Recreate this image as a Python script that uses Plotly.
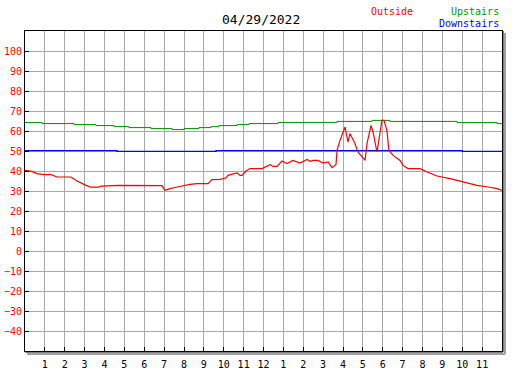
import plotly.graph_objects as go

# ---- data ----
outside_hours = [0.00, 0.35, 0.60, 0.96, 1.31, 1.61, 2.31, 2.62, 3.07, 3.32, 3.72, 3.82, 4.73, 6.89,
                 7.04, 7.30, 7.65, 7.95, 8.30, 8.65, 9.21, 9.41, 9.81, 10.11, 10.21, 10.67, 10.82,
                 10.92, 11.12, 11.32, 11.72, 11.92, 12.33, 12.48, 12.68, 12.93, 13.18, 13.48, 13.84,
                 14.19, 14.34, 14.49, 14.74, 14.99, 15.25, 15.45, 15.65, 15.70, 15.85, 16.10, 16.25,
                 16.35, 16.60, 16.75, 17.11, 17.21, 17.41, 17.51, 17.71, 17.86, 17.96, 18.06, 18.21,
                 18.31, 18.52, 18.87, 19.02, 19.27, 19.87, 20.23, 20.73, 21.38, 21.74, 22.04, 22.74,
                 23.30, 23.75, 24.00]
outside_values = [40.3, 39.8, 38.7, 38.2, 38.2, 37.0, 37.0, 35.0, 32.8, 31.9, 31.9, 32.4, 32.8, 32.7,
                  30.3, 31.2, 32.0, 32.7, 33.3, 33.7, 33.7, 35.7, 35.8, 36.5, 37.8, 39.0, 37.8,
                  37.8, 40.0, 41.2, 41.2, 41.2, 43.2, 42.3, 42.3, 45.0, 43.7, 45.3, 44.0,
                  45.8, 44.8, 45.3, 45.3, 44.0, 44.5, 41.7, 43.3, 50.3, 55.3, 62.0, 54.5,
                  58.7, 53.7, 49.5, 45.3, 53.8, 62.8, 59.5, 49.5, 57.8, 65.3, 65.3, 60.3,
                  50.3, 47.8, 45.3, 42.8, 41.2, 41.2, 39.5, 37.5, 36.2, 35.3, 34.2, 32.8,
                  32.0, 31.2, 30.3]

upstairs_hours = [0.00, 0.86, 2.47, 3.57, 4.48, 5.23, 6.34, 7.40, 8.00, 8.75, 9.36, 9.76, 10.67,
                  11.27, 12.73, 15.70, 17.46, 18.36, 21.74, 23.75, 24.00]
upstairs_values = [64.2, 63.7, 63.2, 62.7, 62.2, 61.7, 61.2, 60.7, 61.2, 61.7, 62.2, 62.7, 63.2,
                   63.7, 64.3, 64.8, 65.3, 64.8, 64.2, 63.7, 63.7]

downstairs_hours = [0.00, 4.63, 9.61, 22.00, 24.00]
downstairs_values = [50.2, 49.8, 50.2, 49.8, 49.8]

x_tick_vals = list(range(1, 24))
x_tick_text = ["1", "2", "3", "4", "5", "6", "7", "8", "9", "10", "11", "12",
               "1", "2", "3", "4", "5", "6", "7", "8", "9", "10", "11"]
y_tick_vals = [-40, -30, -20, -10, 0, 10, 20, 30, 40, 50, 60, 70, 80, 90, 100]

RED = "#ff0000"
GREEN = "#008c00"
BLUE = "#0000ff"
FONT = "DejaVu Sans Mono"

fig = go.Figure()
fig.add_trace(go.Scatter(x=upstairs_hours, y=upstairs_values, mode="lines",
                         line=dict(color=GREEN, width=1, shape="hv"), hoverinfo="skip"))
fig.add_trace(go.Scatter(x=downstairs_hours, y=downstairs_values, mode="lines",
                         line=dict(color=BLUE, width=1.3, shape="hv"), hoverinfo="skip"))
fig.add_trace(go.Scatter(x=outside_hours, y=outside_values, mode="lines",
                         line=dict(color=RED, width=1.2), hoverinfo="skip"))

W, H = 527, 370
ML, MR, MT, MB = 25, 25, 31, 19
PW, PH = W - ML - MR, H - MT - MB

def px(xp):
    return (xp - ML) / PW

def py(yp):
    return (H - MB - yp) / PH

fig.update_layout(
    width=W, height=H,
    margin=dict(l=ML, r=MR, t=MT, b=MB, autoexpand=False),
    paper_bgcolor="white", plot_bgcolor="white",
    showlegend=False,
    font=dict(family=FONT, size=10, color="black"),
    xaxis=dict(range=[0, 24], tickvals=x_tick_vals, ticktext=x_tick_text,
               showgrid=True, gridcolor="#a8a8a8", gridwidth=1,
               ticks="inside", ticklen=4, tickcolor="black", tickwidth=1,
               showline=True, linecolor="black", linewidth=1, mirror=True, automargin=False,
               ticklabelstandoff=4,
               tickfont=dict(family=FONT, size=10, color="black"), zeroline=False),
    yaxis=dict(range=[-50, 110], tickvals=y_tick_vals,
               showgrid=True, gridcolor="#a8a8a8", gridwidth=1,
               ticks="inside", ticklen=4, tickcolor="black", tickwidth=1,
               showline=True, linecolor="black", linewidth=1, mirror=True, automargin=False,
               tickfont=dict(family=FONT, size=10, color=RED), zeroline=False),
    shapes=[
        dict(type="line", xref="paper", yref="paper", x0=1 + 1 / PW, x1=1 + 1 / PW, y0=-1 / PH, y1=1,
             line=dict(color="black", width=1)),
        dict(type="line", xref="paper", yref="paper", x0=0, x1=1 + 1 / PW, y0=-1 / PH, y1=-1 / PH,
             line=dict(color="black", width=1)),
        dict(type="line", xref="paper", yref="paper", x0=1 + 3 / PW, x1=1 + 3 / PW, y0=-3 / PH, y1=1 - 2 / PH,
             line=dict(color="#a0a0a0", width=2)),
        dict(type="line", xref="paper", yref="paper", x0=2 / PW, x1=1 + 3 / PW, y0=-3 / PH, y1=-3 / PH,
             line=dict(color="#a0a0a0", width=2)),
    ],
    annotations=[
        dict(text="04/29/2022", xref="paper", yref="paper", x=px(261), y=py(20),
             xanchor="center", yanchor="middle", showarrow=False,
             font=dict(family=FONT, size=13, color="black")),
        dict(text="Outside", xref="paper", yref="paper", x=px(369), y=py(11),
             xanchor="left", yanchor="middle", showarrow=False,
             font=dict(family=FONT, size=10, color=RED)),
        dict(text="Upstairs", xref="paper", yref="paper", x=px(501), y=py(11),
             xanchor="right", yanchor="middle", showarrow=False,
             font=dict(family=FONT, size=10, color="#009900")),
        dict(text="Downstairs", xref="paper", yref="paper", x=px(501), y=py(23),
             xanchor="right", yanchor="middle", showarrow=False,
             font=dict(family=FONT, size=10, color=BLUE)),
    ],
)

fig.write_html("out.html", config={"displayModeBar": False},
               post_script="document.body.style.margin='0';")
